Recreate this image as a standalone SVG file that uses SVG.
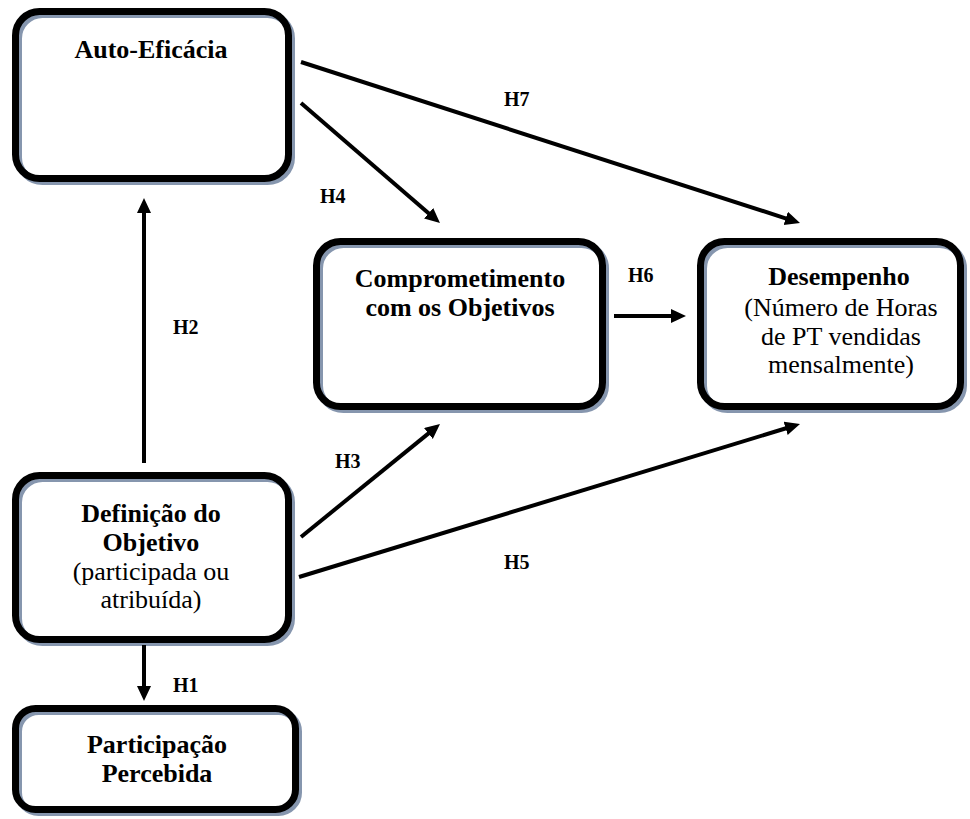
<svg xmlns="http://www.w3.org/2000/svg" width="970" height="819" viewBox="0 0 970 819">
<style>
.bg{fill:#fff;stroke:none}
.sh{fill:none;stroke:#8696ae;stroke-width:7}
.bd{fill:none;stroke:#000;stroke-width:7}
text{font-family:"Liberation Serif","Times New Roman",serif;font-size:26px;fill:#000;text-anchor:middle}
.b{font-weight:bold}
.lbl{font-family:"Liberation Serif","Times New Roman",serif;font-size:20px;font-weight:bold;text-anchor:start}
.ar{stroke:#000;stroke-width:4;fill:none;marker-end:url(#ah)}
</style>
<defs>
<marker id="ah" markerUnits="userSpaceOnUse" markerWidth="16" markerHeight="16" refX="3" refY="7" orient="auto">
<path d="M0,0 L15,7 L0,14 z" fill="#000"/>
</marker>
</defs>
<rect width="970" height="819" fill="#fff"/>

<g id="auto-eficacia">
<rect class="bg" x="15.5" y="11.5" width="273" height="167" rx="24"/>
<rect class="sh" x="18.5" y="14.5" width="273" height="167" rx="24"/>
<rect class="bd" x="15.5" y="11.5" width="273" height="167" rx="24"/>
<text class="b" x="151" y="58">Auto-Eficácia</text>
</g>

<g id="comprometimento">
<rect class="bg" x="316.5" y="241.5" width="286" height="165" rx="24"/>
<rect class="sh" x="319.5" y="244.5" width="286" height="165" rx="24"/>
<rect class="bd" x="316.5" y="241.5" width="286" height="165" rx="24"/>
<text class="b" x="460" y="287">Comprometimento</text>
<text class="b" x="460" y="316">com os Objetivos</text>
</g>

<g id="desempenho">
<rect class="bg" x="700.5" y="241.5" width="260" height="165" rx="24"/>
<rect class="sh" x="703.5" y="244.5" width="260" height="165" rx="24"/>
<rect class="bd" x="700.5" y="241.5" width="260" height="165" rx="24"/>
<text class="b" x="839" y="285">Desempenho</text>
<text x="841" y="316">(Número de Horas</text>
<text x="841" y="345">de PT vendidas</text>
<text x="841" y="373">mensalmente)</text>
</g>

<g id="definicao">
<rect class="bg" x="15.5" y="475.5" width="273" height="164" rx="24"/>
<rect class="sh" x="18.5" y="478.5" width="273" height="164" rx="24"/>
<rect class="bd" x="15.5" y="475.5" width="273" height="164" rx="24"/>
<text class="b" x="151" y="522">Definição do</text>
<text class="b" x="151" y="551">Objetivo</text>
<text x="151" y="580">(participada ou</text>
<text x="151" y="608">atribuída)</text>
</g>

<g id="participacao">
<rect class="bg" x="15.5" y="708.5" width="280" height="101" rx="20"/>
<rect class="sh" x="18.5" y="711.5" width="280" height="101" rx="20"/>
<rect class="bd" x="15.5" y="708.5" width="280" height="101" rx="20"/>
<text class="b" x="157" y="753">Participação</text>
<text class="b" x="157" y="782">Percebida</text>
</g>

<g id="connectors">
<line class="ar" x1="144" y1="645" x2="144" y2="689"/>
<line class="ar" x1="144" y1="463" x2="144" y2="210"/>
<line class="ar" x1="301" y1="537" x2="430.7" y2="431.6"/>
<line class="ar" x1="301" y1="103" x2="430.9" y2="215.2"/>
<line class="ar" x1="299" y1="577" x2="788.5" y2="427.5"/>
<line class="ar" x1="614" y1="316" x2="674" y2="316"/>
<line class="ar" x1="301" y1="62" x2="788.6" y2="219.3"/>
<text class="lbl" x="173" y="692">H1</text>
<text class="lbl" x="173" y="334">H2</text>
<text class="lbl" x="335" y="468">H3</text>
<text class="lbl" x="320" y="203">H4</text>
<text class="lbl" x="504" y="569">H5</text>
<text class="lbl" x="628" y="282">H6</text>
<text class="lbl" x="504" y="106">H7</text>
</g>
</svg>
